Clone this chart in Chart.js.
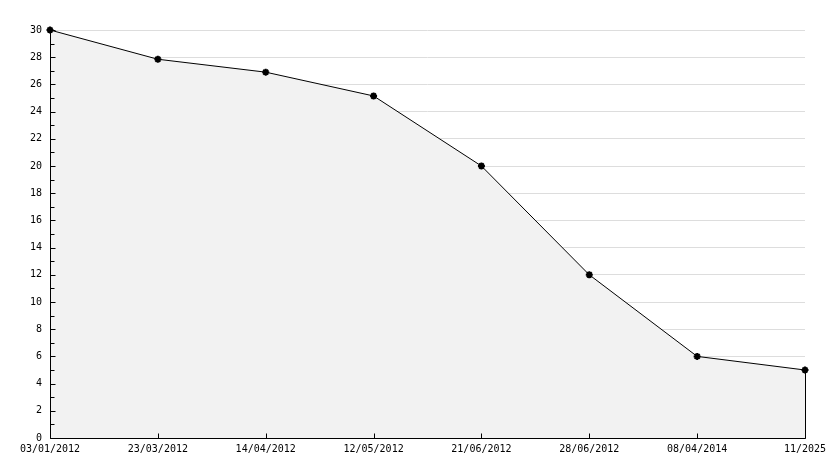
<!DOCTYPE html>
<html>
<head>
<meta charset="utf-8">
<script src="https://cdn.jsdelivr.net/npm/chart.js@4/dist/chart.umd.min.js"></script>
<style>
  html, body { margin: 0; padding: 0; background: #fff; }
  #wrap { width: 834px; height: 468px; position: relative; }
</style>
</head>
<body>
<div id="wrap"><canvas id="c" width="834" height="468"></canvas></div>
<script>
const categories = ["03/01/2012", "23/03/2012", "14/04/2012", "12/05/2012", "21/06/2012", "28/06/2012", "08/04/2014", "11/2025"];
const values = [30, 27.85, 26.9, 25.15, 20, 12, 6, 5];
const yMin = 0, yMax = 30, yStep = 1, yLabelEvery = 2;

const FONT = { family: "'DejaVu Sans Mono', monospace", size: 10 };

const axesPlugin = {
  id: 'axesPlugin',
  afterDatasetsDraw(chart) {
    const { ctx, chartArea, scales } = chart;
    const x = scales.x, y = scales.y;
    const L = Math.round(chartArea.left) + 0.5;
    const B = Math.round(chartArea.bottom) + 0.5;
    const T = Math.round(chartArea.top);
    const R = Math.round(chartArea.right);
    ctx.save();
    ctx.strokeStyle = '#000';
    ctx.lineWidth = 1;
    ctx.beginPath();
    ctx.moveTo(L, T); ctx.lineTo(L, B);
    ctx.moveTo(L, B); ctx.lineTo(R + 0.5, B);
    for (let v = yMin; v <= yMax; v += yStep) {
      const py = Math.round(y.getPixelForValue(v)) + 0.5;
      const len = (v % yLabelEvery === 0) ? 5 : 4;
      ctx.moveTo(L, py); ctx.lineTo(L + len, py);
    }
    for (let i = 0; i < categories.length; i++) {
      const px = Math.round(x.getPixelForValue(i)) + 0.5;
      ctx.moveTo(px, B); ctx.lineTo(px, B - 5);
    }
    const li = values.length - 1;
    const lx = Math.round(x.getPixelForValue(li)) + 0.5;
    ctx.moveTo(lx, y.getPixelForValue(values[li])); ctx.lineTo(lx, B);
    ctx.stroke();
    ctx.restore();
  }
};

new Chart(document.getElementById('c'), {
  type: 'line',
  data: {
    labels: categories,
    datasets: [{
      data: values,
      borderColor: '#000',
      borderWidth: 1,
      backgroundColor: '#f2f2f2',
      fill: 'origin',
      tension: 0,
      clip: false,
      pointStyle: 'star',
      pointRadius: 3.5,
      pointBorderWidth: 2,
      pointBackgroundColor: '#000',
      pointBorderColor: '#000',
      pointHoverRadius: 3.5
    }]
  },
  options: {
    responsive: false,
    animation: false,
    events: [],
    layout: { padding: { top: 30, right: 29, left: 0, bottom: 0 } },
    plugins: { legend: { display: false }, tooltip: { enabled: false } },
    scales: {
      x: {
        type: 'category',
        offset: false,
        grid: { display: false, drawTicks: false },
        border: { display: false },
        ticks: { color: '#000', font: FONT, maxRotation: 0, autoSkip: false, padding: 5 },
        afterFit(s) { s.height = 30; }
      },
      y: {
        min: yMin, max: yMax,
        grid: {
          drawTicks: false,
          color: (c) => (c.tick && c.tick.value % yLabelEvery === 0) ? '#dddddd' : 'rgba(0,0,0,0)',
          lineWidth: 1
        },
        border: { display: false },
        ticks: {
          stepSize: yStep,
          autoSkip: false,
          color: '#000',
          font: FONT,
          padding: 8,
          callback: (v) => (v % yLabelEvery === 0) ? String(v) : ''
        },
        afterFit(s) { s.width = 50; }
      }
    }
  },
  plugins: [axesPlugin]
});
</script>
</body>
</html>
